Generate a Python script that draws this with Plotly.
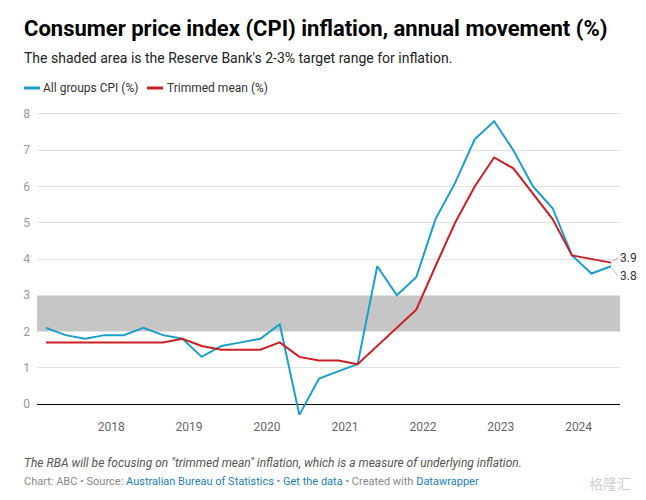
import plotly.graph_objects as go

dates = ["2017-03-01","2017-06-01","2017-09-01","2017-12-01",
         "2018-03-01","2018-06-01","2018-09-01","2018-12-01",
         "2019-03-01","2019-06-01","2019-09-01","2019-12-01",
         "2020-03-01","2020-06-01","2020-09-01","2020-12-01",
         "2021-03-01","2021-06-01","2021-09-01","2021-12-01",
         "2022-03-01","2022-06-01","2022-09-01","2022-12-01",
         "2023-03-01","2023-06-01","2023-09-01","2023-12-01",
         "2024-03-01","2024-06-01"]
cpi = [2.1, 1.9, 1.8, 1.9, 1.9, 2.1, 1.9, 1.8, 1.3, 1.6, 1.7, 1.8,
       2.2, -0.3, 0.7, 0.9, 1.1, 3.8, 3.0, 3.5, 5.1, 6.1, 7.3, 7.8,
       7.0, 6.0, 5.4, 4.1, 3.6, 3.8]
trimmed = [1.7, 1.7, 1.7, 1.7, 1.7, 1.7, 1.7, 1.8, 1.6, 1.5, 1.5, 1.5,
           1.7, 1.3, 1.2, 1.2, 1.1, 1.6, 2.1, 2.6, 3.8, 5.0, 6.0, 6.8,
           6.5, 5.8, 5.1, 4.1, 4.0, 3.9]
target_low, target_high = 2, 3
year_ticks = ["2018-01-01","2019-01-01","2020-01-01","2021-01-01",
              "2022-01-01","2023-01-01","2024-01-01"]
year_labels = ["2018","2019","2020","2021","2022","2023","2024"]
series_names = ["All groups CPI (%)", "Trimmed mean (%)"]

BLUE = "#1a9fcc"
RED = "#c91f25"
FONT = "Roboto"

# page has an 8px body margin; work in screenshot pixels and offset
OFF = 8
W, H = 646 - OFF, 500 - OFF
L, R, T, B = 37, 620, 110, 418
ml, mr, mt, mb = L - OFF, W - (R - OFF), T - OFF, H - (B - OFF)
pw, ph = W - ml - mr, H - mt - mb
def px(xs): return (xs - OFF - ml) / pw
def py(ys): return (H - mb - (ys - OFF)) / ph

fig = go.Figure()
fig.add_hrect(y0=target_low, y1=target_high, fillcolor="#c6c6c6", line_width=0, layer="below")
fig.add_trace(go.Scatter(x=dates, y=cpi, mode="lines", name=series_names[0],
                         line=dict(color=BLUE, width=2)))
fig.add_trace(go.Scatter(x=dates, y=trimmed, mode="lines", name=series_names[1],
                         line=dict(color=RED, width=2)))

# end labels
fig.add_annotation(x=dates[-1], y=trimmed[-1], text=f"{trimmed[-1]}", showarrow=True,
                   ax=7, ay=-5, arrowhead=0, arrowwidth=1, arrowcolor="#e88a8a",
                   xanchor="left", yanchor="middle", font=dict(family=FONT, size=12, color="#333"),
                   standoff=2)
fig.add_annotation(x=dates[-1], y=cpi[-1], text=f"{cpi[-1]}", showarrow=True,
                   ax=7, ay=10, arrowhead=0, arrowwidth=1, arrowcolor="#8ccde3",
                   xanchor="left", yanchor="middle", font=dict(family=FONT, size=12, color="#333"),
                   standoff=2)

texts = [
    ("<b>Consumer price index (CPI) inflation, annual movement (%)</b>", 22, 28, dict(family=FONT, size=22, color="#000")),
    ("The shaded area is the Reserve Bank's 2-3% target range for inflation.", 22, 58, dict(family=FONT, size=14, color="#222")),
    (series_names[0], 41, 88, dict(family=FONT, size=12, color="#333")),
    (series_names[1], 165, 88, dict(family=FONT, size=12, color="#333")),
    ("<i>The RBA will be focusing on \"trimmed mean\" inflation, which is a measure of underlying inflation.</i>", 22, 463, dict(family=FONT, size=12, color="#555")),
    ("Chart: ABC • Source: <span style='color:#1d7fba'>Australian Bureau of Statistics</span> • <span style='color:#1d7fba'>Get the data</span> • Created with <span style='color:#1d7fba'>Datawrapper</span>", 22, 481, dict(family=FONT, size=11, color="#888")),
    ("格隆汇", 587, 483, dict(family="Noto Sans CJK SC", size=14, color="#d0d0d0")),
]
for t, xs, ys, f in texts:
    fig.add_annotation(text=t, xref="paper", yref="paper", x=px(xs), y=py(ys), showarrow=False,
                       xanchor="left", yanchor="middle", font=f)

# legend swatches
for x0, x1, c in [(24, 40, BLUE), (147, 163, RED)]:
    fig.add_shape(type="line", xref="paper", yref="paper", x0=px(x0), x1=px(x1), y0=py(88), y1=py(88),
                  line=dict(color=c, width=3))

fig.update_layout(
    width=W, height=H, margin=dict(l=ml, r=mr, t=mt, b=mb),
    plot_bgcolor="white", paper_bgcolor="white", showlegend=False,
    font=dict(family=FONT),
    xaxis=dict(type="date", range=["2017-01-18", "2024-07-13"], tickvals=year_ticks, ticktext=year_labels,
               showgrid=False, zeroline=False, showline=False, ticks="",
               tickfont=dict(size=12, color="#666")),
    yaxis=dict(range=[-0.386, 8.11], tickvals=[0,1,2,3,4,5,6,7,8], showgrid=True, gridcolor="#e3e3e3",
               gridwidth=1, zeroline=True, zerolinecolor="#000", zerolinewidth=1,
               tickfont=dict(size=12, color="#999"), ticks="", ticklabelstandoff=6),
)
fig.write_html("out.html")
